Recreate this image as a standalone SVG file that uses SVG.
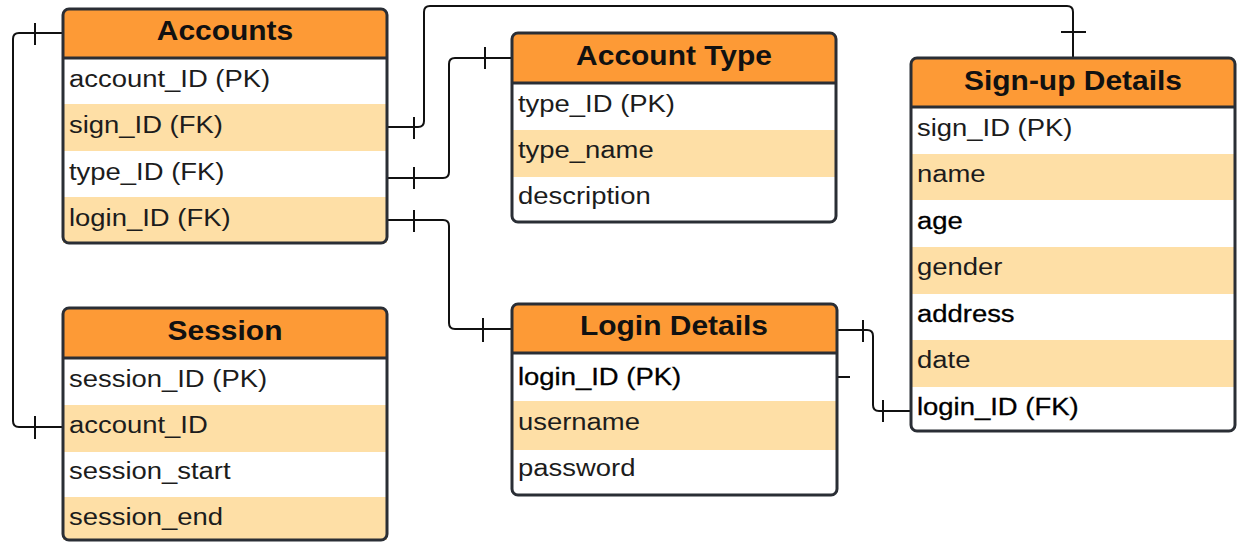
<svg xmlns="http://www.w3.org/2000/svg" width="1238" height="542" viewBox="0 0 1238 542">
<style>
.box{fill:#fff;stroke:none}
.peach{fill:#fedfa6}
.hdr{fill:#fd9a36}
.frame{fill:none;stroke:#2a2e35;stroke-width:3}
.sep{stroke:#2a2e35;stroke-width:3}
.title{font-family:"Liberation Sans",Arial,sans-serif;font-weight:bold;font-size:28px;fill:#111;text-anchor:middle}
.f{font-family:"Liberation Sans",Arial,sans-serif;font-size:24.5px;fill:#1c1c1c}
.dk{fill:#000;stroke:#000;stroke-width:0.3}
.conn path{fill:none;stroke:#111;stroke-width:2}
</style>
<rect width="1238" height="542" fill="#fff"/>

<g id="connectors" class="conn">
  <path d="M63,33 H19 Q13,33 13,39 V421 Q13,427 19,427 H63"/>
  <path d="M35,23 V45 M35,416 V439"/>
  <path d="M387,127 H418 Q424,127 424,121 V12 Q424,6 430,6 H1067 Q1073,6 1073,12 V58"/>
  <path d="M414,117 V139 M1061,32 H1086"/>
  <path d="M387,178 H443 Q449,178 449,172 V64 Q449,58 455,58 H512"/>
  <path d="M414,167 V189 M485,47 V69"/>
  <path d="M387,220 H443 Q449,220 449,226 V323 Q449,329 455,329 H512"/>
  <path d="M414,210 V232 M483,318 V342"/>
  <path d="M837,330 H867 Q873,330 873,336 V405 Q873,411 879,411 H911"/>
  <path d="M863,320 V342 M883,400 V422"/>
  <path d="M837,377 H850"/>
</g>

<g id="accounts">
  <rect class="box" x="63" y="9" width="324" height="234" rx="6"/>
  <rect class="peach" x="63" y="104" width="324" height="47"/>
  <rect class="peach" x="63" y="197" width="324" height="46"/>
  <path class="hdr" d="M63,58 V15 Q63,9 69,9 H381 Q387,9 387,15 V58 Z"/>
  <line class="sep" x1="63" y1="58" x2="387" y2="58"/>
  <rect class="frame" x="63" y="9" width="324" height="234" rx="6"/>
  <text class="title" transform="translate(225,40) scale(1.07,1)">Accounts</text>
  <text class="f" transform="translate(69,87) scale(1.12,1)">account_ID (PK)</text>
  <text class="f" transform="translate(69,133) scale(1.12,1)">sign_ID (FK)</text>
  <text class="f" transform="translate(69,180) scale(1.12,1)">type_ID (FK)</text>
  <text class="f" transform="translate(69,226) scale(1.12,1)">login_ID (FK)</text>
</g>

<g id="account-type">
  <rect class="box" x="512" y="33" width="324" height="189" rx="6"/>
  <rect class="peach" x="512" y="130" width="324" height="47"/>
  <path class="hdr" d="M512,83 V39 Q512,33 518,33 H830 Q836,33 836,39 V83 Z"/>
  <line class="sep" x1="512" y1="83" x2="836" y2="83"/>
  <rect class="frame" x="512" y="33" width="324" height="189" rx="6"/>
  <text class="title" transform="translate(674,65) scale(1.07,1)">Account Type</text>
  <text class="f" transform="translate(518,112) scale(1.12,1)">type_ID (PK)</text>
  <text class="f" transform="translate(518,158) scale(1.12,1)">type_name</text>
  <text class="f" transform="translate(518,204) scale(1.12,1)">description</text>
</g>

<g id="signup-details">
  <rect class="box" x="911" y="58" width="324" height="373" rx="6"/>
  <rect class="peach" x="911" y="154" width="324" height="46"/>
  <rect class="peach" x="911" y="247" width="324" height="47"/>
  <rect class="peach" x="911" y="340" width="324" height="47"/>
  <path class="hdr" d="M911,107 V64 Q911,58 917,58 H1229 Q1235,58 1235,64 V107 Z"/>
  <line class="sep" x1="911" y1="107" x2="1235" y2="107"/>
  <rect class="frame" x="911" y="58" width="324" height="373" rx="6"/>
  <text class="title" transform="translate(1073,90) scale(1.07,1)">Sign-up Details</text>
  <text class="f" transform="translate(917,136) scale(1.12,1)">sign_ID (PK)</text>
  <text class="f" transform="translate(917,182) scale(1.12,1)">name</text>
  <text class="f dk" transform="translate(917,229) scale(1.12,1)">age</text>
  <text class="f" transform="translate(917,275) scale(1.12,1)">gender</text>
  <text class="f dk" transform="translate(917,322) scale(1.12,1)">address</text>
  <text class="f" transform="translate(917,368) scale(1.12,1)">date</text>
  <text class="f dk" transform="translate(917,415) scale(1.12,1)">login_ID (FK)</text>
</g>

<g id="session">
  <rect class="box" x="63" y="308" width="324" height="232" rx="6"/>
  <rect class="peach" x="63" y="405" width="324" height="47"/>
  <rect class="peach" x="63" y="497" width="324" height="43"/>
  <path class="hdr" d="M63,358 V314 Q63,308 69,308 H381 Q387,308 387,314 V358 Z"/>
  <line class="sep" x1="63" y1="358" x2="387" y2="358"/>
  <rect class="frame" x="63" y="308" width="324" height="232" rx="6"/>
  <text class="title" transform="translate(225,340) scale(1.07,1)">Session</text>
  <text class="f" transform="translate(69,387) scale(1.12,1)">session_ID (PK)</text>
  <text class="f" transform="translate(69,433) scale(1.12,1)">account_ID</text>
  <text class="f" transform="translate(69,479) scale(1.12,1)">session_start</text>
  <text class="f" transform="translate(69,525) scale(1.12,1)">session_end</text>
</g>

<g id="login-details">
  <rect class="box" x="512" y="304" width="325" height="191" rx="6"/>
  <rect class="peach" x="512" y="401" width="325" height="49"/>
  <path class="hdr" d="M512,353 V310 Q512,304 518,304 H831 Q837,304 837,310 V353 Z"/>
  <line class="sep" x1="512" y1="353" x2="837" y2="353"/>
  <rect class="frame" x="512" y="304" width="325" height="191" rx="6"/>
  <text class="title" transform="translate(674,335) scale(1.07,1)">Login Details</text>
  <text class="f dk" transform="translate(518,385) scale(1.12,1)">login_ID (PK)</text>
  <text class="f" transform="translate(518,430) scale(1.12,1)">username</text>
  <text class="f" transform="translate(518,476) scale(1.12,1)">password</text>
</g>
</svg>
